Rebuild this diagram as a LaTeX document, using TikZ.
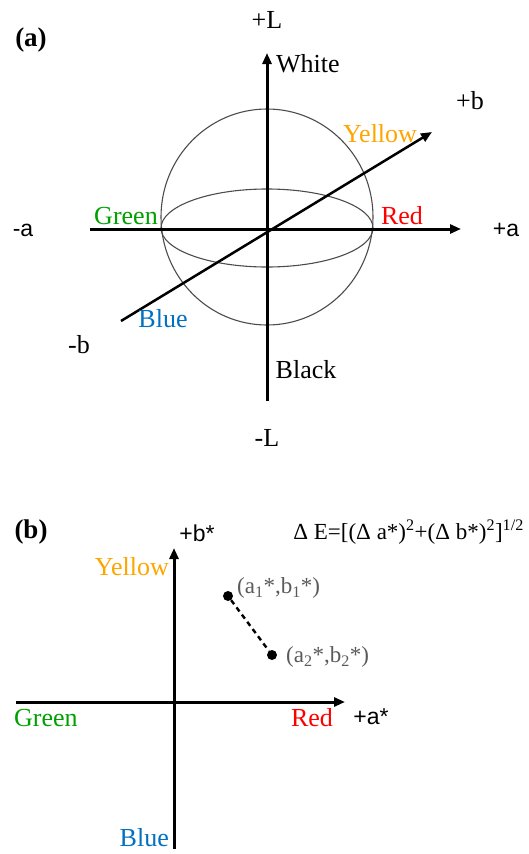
\documentclass[tikz,border=0pt]{standalone}
\usepackage{fontspec}
\setmainfont{Liberation Serif}
\setsansfont{Liberation Sans}
\usetikzlibrary{arrows.meta}
\definecolor{cgreen}{RGB}{0,160,0}
\definecolor{cblue}{RGB}{0,112,192}
\definecolor{corange}{RGB}{255,165,0}
\definecolor{cred}{RGB}{255,0,0}
\definecolor{cgray}{RGB}{90,90,90}
\tikzset{
  axis/.style={line width=3pt,-{Triangle[length=11pt,width=9pt]}},
  lbl/.style={font=\fontsize{26}{30}\selectfont,inner sep=0pt},
  slbl/.style={font=\sffamily\fontsize{23}{27}\selectfont,inner sep=0pt},
  ptlbl/.style={font=\fontsize{23}{27}\selectfont,inner sep=0pt,text=cgray,anchor=west},
  dot/.style={circle,fill=black,inner sep=0pt,minimum size=10pt},
  thin/.style={line width=1.1pt,draw=black!70}
}
\begin{document}
\begin{tikzpicture}[x=1pt,y=-1pt]
\useasboundingbox (0,0) rectangle (528,854);
% ---------- panel (a)
\coordinate (O) at (267,229);
\coordinate (Ltop) at (267,53);
\coordinate (Lbot) at (267,401);
\coordinate (aL) at (90,229);
\coordinate (aR) at (461,229);
\coordinate (bL) at (121,321);
\coordinate (bR) at (432,132);
\draw[thin] (267,217) ellipse [x radius=106, y radius=108];
\draw[thin] (267,228) ellipse [x radius=106, y radius=39];
\draw[axis] (Lbot) -- (Ltop);
\draw[axis] (aL) -- (aR);
\draw[line width=2.5pt,-{Triangle[length=11pt,width=9pt]}] (bL) -- (bR);
\node[lbl,font=\bfseries\fontsize{27}{30}\selectfont] (pa) at (31,40) {(a)};
\node[lbl] (pL) at (267,20) {+L};
\node[lbl,anchor=west] (white) at (276,64) {White};
\node[lbl] (pb) at (470,101) {+b};
\node[lbl,text=corange] (yellow) at (380,134) {Yellow};
\node[lbl,text=cgreen] (green) at (126,216) {Green};
\node[lbl,text=cred] (red) at (402,216) {Red};
\node[slbl] (ma) at (23,230) {-a};
\node[slbl] (paa) at (506,230) {+a};
\node[lbl,text=cblue] (blue) at (163,319) {Blue};
\node[lbl] (mb) at (79,345) {-b};
\node[lbl] (black) at (306,370) {Black};
\node[lbl] (mL) at (267,438) {-L};
% ---------- panel (b)
\coordinate (Vb) at (174,849);
\coordinate (Vt) at (174,548);
\coordinate (Hl) at (16,702);
\coordinate (Hr) at (345,702);
\draw[axis] (Vb) -- (Vt);
\draw[axis] (Hl) -- (Hr);
\node[lbl,font=\bfseries\fontsize{27}{30}\selectfont] (pbb) at (31,532) {(b)};
\node[slbl,font=\sffamily\fontsize{23}{27}\selectfont] (pbs) at (197,533) {+b*};
\node[lbl,anchor=east,font=\fontsize{23}{26}\selectfont] (dE) at (524,532) {Δ E=[(Δ a*)\textsuperscript{2}+(Δ b*)\textsuperscript{2}]\textsuperscript{1/2}};
\node[lbl,text=corange,anchor=east] (yb) at (169,567) {Yellow};
\node[lbl,text=cgreen,anchor=west] (gb) at (14,718) {Green};
\node[lbl,text=cred] (rb) at (312,718) {Red};
\node[slbl,font=\sffamily\fontsize{23}{27}\selectfont] (pas) at (371,717) {+a*};
\node[lbl,text=cblue,anchor=east] (bb) at (169,838) {Blue};
\node[dot] (p1) at (228,596) {};
\node[dot] (p2) at (272,655) {};
\draw[line width=2.4pt,dash pattern=on 5pt off 4pt] (p1) -- (p2);
\node[ptlbl] (l1) at (237,588) {(a\textsubscript{1}*,b\textsubscript{1}*)};
\node[ptlbl] (l2) at (286,657) {(a\textsubscript{2}*,b\textsubscript{2}*)};
\end{tikzpicture}
\end{document}
